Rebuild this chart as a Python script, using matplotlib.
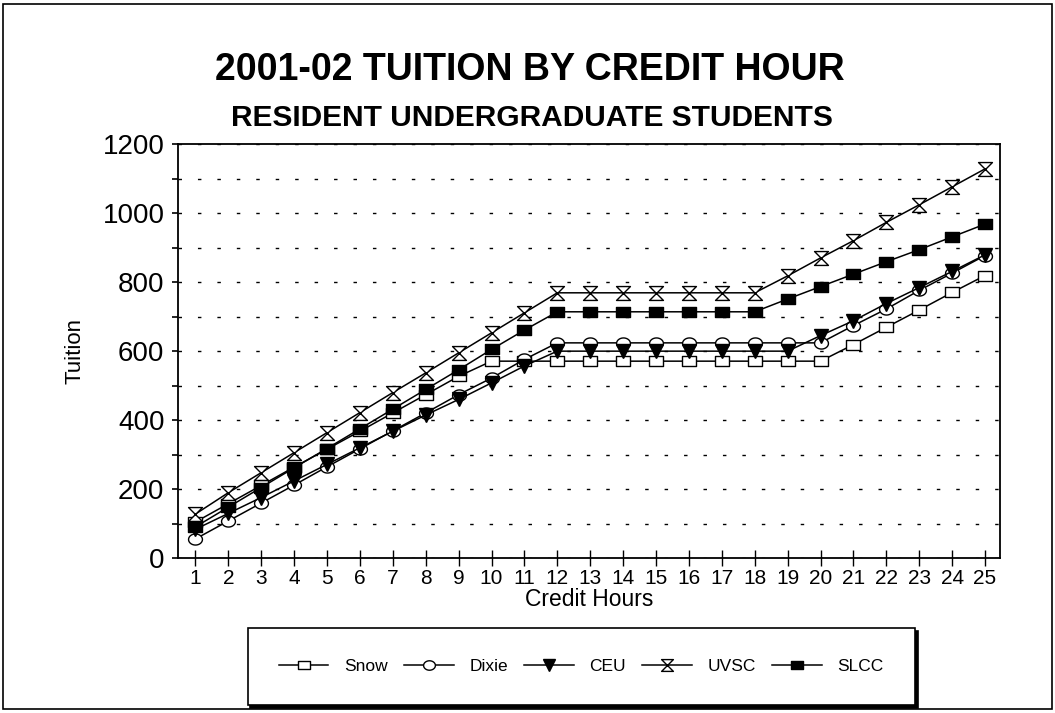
import matplotlib
matplotlib.use('Agg')
import matplotlib.pyplot as plt
import numpy as np
from matplotlib.path import Path
from matplotlib.patches import Rectangle
from matplotlib import font_manager

# tuition per credit hour
hours = list(range(1, 26))
snow = [105, 158, 211, 264, 316, 368, 421, 474, 527] + [571] * 11 + [619, 669, 719, 770, 819]
dixie = [56, 108, 160, 212, 265, 317, 369, 421, 474, 522, 576] + [624] * 9 + [674, 722, 776, 826, 877]
ceu = [84, 130, 176, 224, 272, 320, 368, 415, 460, 508, 557] + [600] * 8 + [645, 688, 738, 784, 831, 879]
uvsc = [128, 190, 248, 306, 364, 422, 480, 537, 595, 653, 711] + [769] * 7 + [818, 870, 920, 973, 1024, 1076, 1128]
slcc = [91, 148, 205, 262, 318, 375, 432, 489, 546, 605, 661] + [714] * 7 + [751, 787, 823, 859, 894, 931, 968]
names = ['Snow', 'Dixie', 'CEU', 'UVSC', 'SLCC']

plt.rcParams['font.family'] = 'Liberation Sans'
installed = {f.name for f in font_manager.fontManager.ttflist}
narrow = 'Liberation Sans Narrow' if 'Liberation Sans Narrow' in installed else 'Liberation Sans'
title_size = 32 if narrow != 'Liberation Sans' else 27
sub_size = 24 if narrow != 'Liberation Sans' else 21.5

# markers: slightly wide shapes, like the scanned original
rect = Path([(-1, -0.75), (1, -0.75), (1, 0.75), (-1, 0.75), (-1, -0.75)],
            [Path.MOVETO, Path.LINETO, Path.LINETO, Path.LINETO, Path.CLOSEPOLY])
t = np.linspace(0, 2 * np.pi, 40)
ellipse = Path(np.column_stack([np.cos(t), 0.8 * np.sin(t)]), closed=True)
hourglass = Path([(-1, 1), (1, 1), (-1, -1), (1, -1), (-1, 1)],
                 [Path.MOVETO, Path.LINETO, Path.LINETO, Path.LINETO, Path.CLOSEPOLY])

fig = plt.figure(figsize=(10.55, 7.13), dpi=100)
ax = fig.add_axes([0.169, 0.217, 0.779, 0.581])

styles = [
    (snow, rect, 'white'),
    (dixie, ellipse, 'white'),
    (ceu, 'v', 'black'),
    (uvsc, hourglass, 'white'),
    (slcc, rect, 'black'),
]
for (vals, mk, fc), name in zip(styles, names):
    ax.plot(hours, vals, color='black', lw=1.1, marker=mk, markersize=10,
            markerfacecolor=fc, markeredgecolor='black', markeredgewidth=1.0, label=name)

ax.set_xlim(0.48, 25.46)
ax.set_ylim(0, 1200)
ax.set_xticks(hours)
ax.set_yticks(range(0, 1201, 200))
ax.set_yticks(range(0, 1201, 100), minor=True)
ax.yaxis.grid(True, which='both', color='black', lw=1.0, linestyle=(0, (2.5, 11.5)))
ax.set_axisbelow(True)

ax.tick_params(axis='x', direction='inout', length=12, width=1.0, labelsize=15, pad=2)
ax.tick_params(axis='y', which='both', direction='out', length=4, width=1.2, labelsize=20, pad=6)
ax.tick_params(axis='y', which='minor', labelleft=False)
for s in ax.spines.values():
    s.set_linewidth(1.3)

ax.set_xlabel('Credit Hours', fontsize=16.5, labelpad=0)
ax.set_ylabel('Tuition', fontsize=16, labelpad=12)

fig.text(0.502, 0.902, '2001-02 TUITION BY CREDIT HOUR', ha='center', va='center',
         fontsize=title_size, fontweight='bold', family=narrow)
fig.text(0.504, 0.834, 'RESIDENT UNDERGRADUATE STUDENTS', ha='center', va='center',
         fontsize=sub_size, fontweight='bold', family=narrow)

leg = fig.legend(loc='center', bbox_to_anchor=(0.551, 0.065), ncol=5, fontsize=12.5,
                 frameon=True, fancybox=False, shadow={'color': 'black', 'alpha': 1},
                 borderpad=1.8, handlelength=2.85, handletextpad=0.9, columnspacing=0.95,
                 markerscale=0.85)
leg.get_frame().set_edgecolor('black')
leg.get_frame().set_linewidth(1.2)

# outer page frame
fig.patches.append(Rectangle((0.003, 0.006), 0.994, 0.988, transform=fig.transFigure,
                             fill=False, edgecolor='black', lw=1.2))

fig.savefig('out.png', dpi=100)
